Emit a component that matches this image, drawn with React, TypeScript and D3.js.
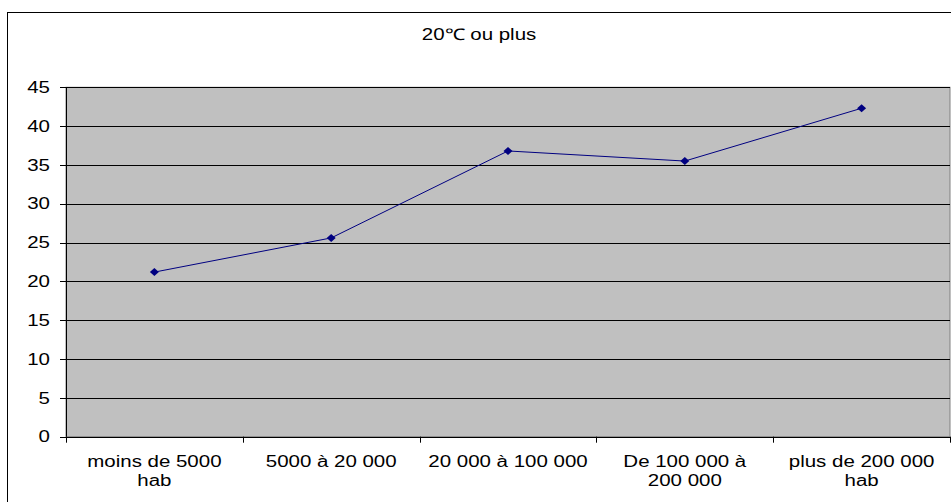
import React from "react";
import * as d3 from "d3";

const title = "20℃ ou plus";
const categories = [
  "moins de 5000\nhab",
  "5000 à 20 000",
  "20 000 à 100 000",
  "De 100 000 à\n200 000",
  "plus de 200 000\nhab",
];
const values = [21.2, 25.6, 36.8, 35.5, 42.3];
const yTicks = [0, 5, 10, 15, 20, 25, 30, 35, 40, 45];

const W = 951;
const H = 502;
const plot = { left: 66, right: 950, top: 87.3, bottom: 436.7 };
const font = "'Liberation Sans', Arial, sans-serif";
const FS = 16;
const SX = 1.28;

function T({ x, y, anchor, children }: { x: number; y: number; anchor: string; children: any }) {
  return (
    <text
      transform={`translate(${x},${y}) scale(${SX},1)`}
      textAnchor={anchor}
      fontFamily={font}
      fontSize={FS}
      fill="#000"
    >
      {children}
    </text>
  );
}

export default function App() {
  const x = d3
    .scaleBand<string>()
    .domain(categories)
    .range([plot.left, plot.right])
    .padding(0);
  const y = d3.scaleLinear().domain([0, 45]).range([plot.bottom, plot.top]);
  const cxOf = (i: number) => (x(categories[i]) as number) + x.bandwidth() / 2;
  const line = d3
    .line<number>()
    .x((_, i) => cxOf(i))
    .y((d) => y(d));
  const boundaries = categories.map((c) => x(c) as number).concat([plot.right]);

  return (
    <svg
      width={W}
      height={H}
      style={{ position: "absolute", left: 0, top: 0, background: "#fff" }}
    >
      <rect x={7.5} y={12.5} width={W} height={H} fill="#fff" stroke="#000" strokeWidth={1} />
      <T x={479} y={40} anchor="middle">
        {title}
      </T>
      <rect
        x={plot.left}
        y={plot.top}
        width={plot.right - plot.left}
        height={plot.bottom - plot.top}
        fill="#c0c0c0"
        stroke="#808080"
        strokeWidth={1}
      />
      {yTicks.map((t) => (
        <g key={t}>
          {t > 0 && (
            <line
              x1={plot.left}
              x2={plot.right}
              y1={Math.round(y(t)) + 0.5}
              y2={Math.round(y(t)) + 0.5}
              stroke="#000"
              strokeWidth={1}
            />
          )}
          <line
            x1={plot.left - 6}
            x2={plot.left}
            y1={Math.round(y(t)) + 0.5}
            y2={Math.round(y(t)) + 0.5}
            stroke="#000"
          />
          <T x={50} y={y(t) + 5.7} anchor="end">
            {t}
          </T>
        </g>
      ))}
      <line
        x1={plot.left}
        x2={plot.right}
        y1={Math.round(plot.bottom) + 0.5}
        y2={Math.round(plot.bottom) + 0.5}
        stroke="#000"
      />
      <line
        x1={plot.left + 0.5}
        x2={plot.left + 0.5}
        y1={plot.top}
        y2={plot.bottom}
        stroke="#000"
      />
      {boundaries.map((b, i) => (
        <line
          key={i}
          x1={Math.round(b) + 0.5}
          x2={Math.round(b) + 0.5}
          y1={plot.bottom}
          y2={plot.bottom + 6}
          stroke="#000"
        />
      ))}
      {categories.map((c, i) => {
        const lines = c.split("\n");
        return (
          <g key={c}>
            {lines.map((l, j) => (
              <T key={j} x={cxOf(i)} y={467 + j * 19} anchor="middle">
                {l}
              </T>
            ))}
          </g>
        );
      })}
      <path d={line(values) || ""} fill="none" stroke="#000080" strokeWidth={1} />
      {values.map((v, i) => (
        <path
          key={i}
          d="M0,-4L4.5,0L0,4L-4.5,0Z"
          transform={`translate(${cxOf(i)},${y(v)})`}
          fill="#000080"
        />
      ))}
    </svg>
  );
}
